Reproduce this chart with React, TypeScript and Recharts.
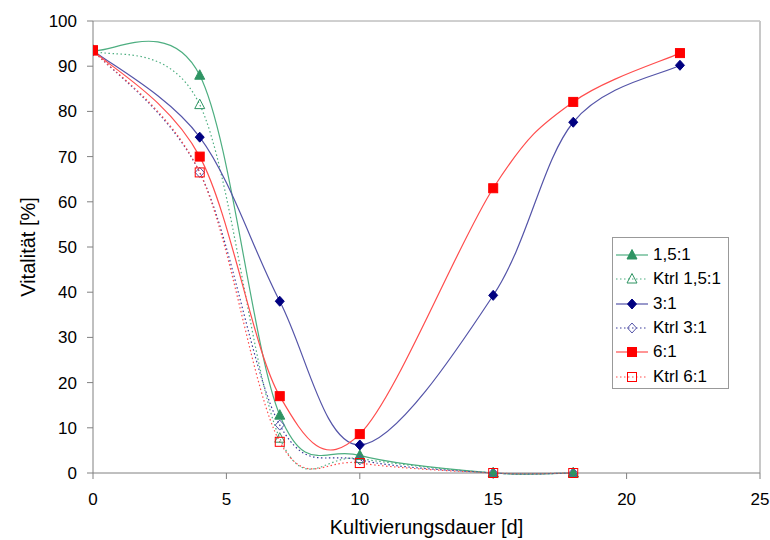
import React from 'react'
import { LineChart, Line, XAxis, YAxis, ReferenceLine, Legend } from 'recharts'

const daysLong = [0, 4, 7, 10, 15, 18, 22]
const daysShort = [0, 4, 7, 10, 15, 18]

const v15 = [93.5, 88, 12.8, 3.9, 0, 0]
const ktrl15 = [93.5, 81.5, 7.7, 3.2, 0, 0]
const v3 = [93.5, 74.3, 38, 6.2, 39.3, 77.6, 90.2]
const ktrl3 = [93.5, 66.5, 10.6, 2.9, 0, 0]
const v6 = [93.5, 70, 17, 8.6, 63, 82.1, 92.9]
const ktrl6 = [93.5, 66.5, 6.9, 2.2, 0, 0]

const xTicks = [0, 5, 10, 15, 20, 25]
const yTicks = [0, 10, 20, 30, 40, 50, 60, 70, 80, 90, 100]

const toRows = (days: number[], vals: number[]) => days.map((d, i) => ({ day: d, value: vals[i] }))

// Excel style smoothing (Catmull-Rom as bezier)
const excelCurve = (context: any) => {
  let pts: number[][] = []
  return {
    areaStart() {},
    areaEnd() {},
    lineStart() { pts = [] },
    lineEnd() {
      if (!pts.length) return
      context.moveTo(pts[0][0], pts[0][1])
      for (let i = 0; i < pts.length - 1; i++) {
        const p0 = pts[i - 1] || pts[i]
        const p1 = pts[i]
        const p2 = pts[i + 1]
        const p3 = pts[i + 2] || p2
        context.bezierCurveTo(
          p1[0] + (p2[0] - p0[0]) / 6, p1[1] + (p2[1] - p0[1]) / 6,
          p2[0] - (p3[0] - p1[0]) / 6, p2[1] - (p3[1] - p1[1]) / 6,
          p2[0], p2[1]
        )
      }
    },
    point(x: number, y: number) { pts.push([+x, +y]) },
  }
}

const series = [
  { name: '1,5:1', data: toRows(daysShort, v15), line: '#4dae80', mark: '#2f9463', shape: 'tri', filled: true, dash: undefined },
  { name: 'Ktrl 1,5:1', data: toRows(daysShort, ktrl15), line: '#4dae80', mark: '#2f9463', shape: 'tri', filled: false, dash: '1.5 2.5' },
  { name: '3:1', data: toRows(daysLong, v3), line: '#5454a8', mark: '#000080', shape: 'dia', filled: true, dash: undefined },
  { name: 'Ktrl 3:1', data: toRows(daysShort, ktrl3), line: '#3a3a9a', mark: '#5454a8', shape: 'dia', filled: false, dash: '1.5 2.5' },
  { name: '6:1', data: toRows(daysLong, v6), line: '#ff4d4d', mark: '#ff0000', shape: 'sq', filled: true, dash: undefined },
  { name: 'Ktrl 6:1', data: toRows(daysShort, ktrl6), line: '#ff4d4d', mark: '#ff0000', shape: 'sq', filled: false, dash: '1.5 2.5' },
]

function Marker({ cx, cy, shape, color, filled }: any) {
  if (cx == null || cy == null) return null
  const fill = filled ? color : 'none'
  if (shape === 'tri') {
    return <polygon points={`${cx},${cy - 5.5} ${cx + 5},${cy + 4} ${cx - 5},${cy + 4}`} fill={fill} stroke={color} strokeWidth={1} />
  }
  if (shape === 'dia') {
    return <polygon points={`${cx},${cy - 5} ${cx + 4.5},${cy} ${cx},${cy + 5} ${cx - 4.5},${cy}`} fill={fill} stroke={color} strokeWidth={1} />
  }
  return <rect x={cx - 4.5} y={cy - 4.5} width={9} height={9} fill={fill} stroke={color} strokeWidth={1} />
}

function LegendBox() {
  return (
    <div style={{ position: 'absolute', left: 612, top: 237, width: 117, height: 152, border: '1px solid #999', background: '#fff', boxSizing: 'border-box', padding: '5px 0 0 2px' }}>
      {series.map((s) => (
        <div key={s.name} style={{ display: 'flex', alignItems: 'center', height: 24.3 }}>
          <svg width={34} height={14}>
            <line x1={1} y1={7} x2={33} y2={7} stroke={s.line} strokeWidth={1.2} strokeDasharray={s.dash} />
            <Marker cx={17} cy={7} shape={s.shape} color={s.mark} filled={s.filled} />
          </svg>
          <span style={{ marginLeft: 4, fontFamily: 'Liberation Sans, Arial, sans-serif', fontSize: 17, color: '#000', whiteSpace: 'nowrap' }}>{s.name}</span>
        </div>
      ))}
    </div>
  )
}

export default function App() {
  const tickStyle = { fontFamily: 'Liberation Sans, Arial, sans-serif', fontSize: 17, fill: '#000' }
  return (
    <div style={{ position: 'absolute', left: 0, top: 0, width: 770, height: 540, background: '#fff' }}>
      <LineChart width={770} height={540} data={series[0].data} margin={{ top: 21, right: 10, bottom: 0, left: 0 }}>
        <XAxis
          dataKey="day"
          type="number"
          domain={[0, 25]}
          ticks={xTicks}
          allowDataOverflow
          height={67}
          tickSize={6}
          tickMargin={14}
          stroke="#808080"
          tick={tickStyle}
          label={{ value: 'Kultivierungsdauer [d]', position: 'insideBottom', offset: 6, style: { ...tickStyle, fontSize: 20 } }}
        />
        <YAxis
          dataKey="value"
          type="number"
          domain={[0, 100]}
          ticks={yTicks}
          width={93}
          tickSize={6}
          tickMargin={10}
          stroke="#808080"
          tick={tickStyle}
          label={{ value: 'Vitalität [%]', angle: -90, position: 'insideLeft', offset: 28, style: { ...tickStyle, fontSize: 20, textAnchor: 'middle' } }}
        />
        <ReferenceLine y={100} stroke="#a0a0a0" strokeWidth={1} />
        <ReferenceLine x={25} stroke="#c8c8c8" strokeWidth={2} />
        {series.map((s) => (
          <Line
            key={s.name}
            data={s.data}
            dataKey="value"
            name={s.name}
            type={excelCurve as any}
            stroke={s.line}
            strokeWidth={1.2}
            strokeDasharray={s.dash}
            isAnimationActive={false}
            dot={(p: any) => <Marker key={`${s.name}-${p.index}`} cx={p.cx} cy={p.cy} shape={s.shape} color={s.mark} filled={s.filled} />}
            activeDot={false}
          />
        ))}
        <Legend content={() => null} />
      </LineChart>
      <LegendBox />
    </div>
  )
}
